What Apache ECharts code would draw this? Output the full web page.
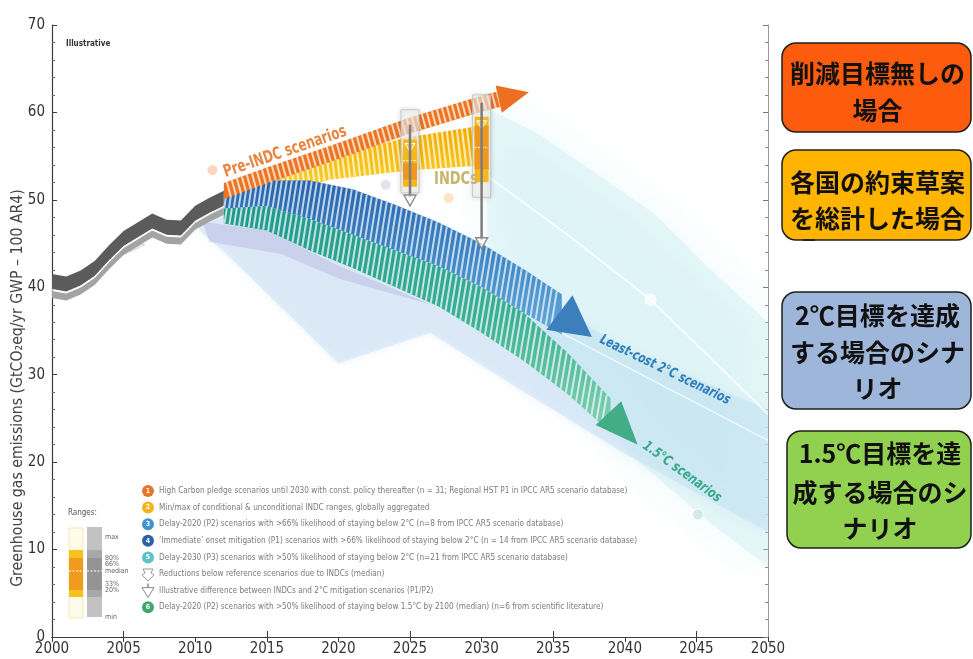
<!DOCTYPE html>
<html>
<head>
<meta charset="utf-8">
<script src="https://cdn.jsdelivr.net/npm/echarts@6/dist/echarts.min.js"></script>
<style>
html,body{margin:0;padding:0;background:#fff;}
#chart{width:973px;height:659px;}
</style>
</head>
<body>
<div id="chart"></div>
<script>
// ---------------- data (GtCO2e/yr) ----------------
const historyYears = [2000, 2001, 2002, 2003, 2004, 2005, 2006, 2007, 2008, 2009, 2010, 2011, 2012];
const historyValues = [39.7, 39.4, 40.1, 41.2, 43.0, 44.6, 45.6, 46.6, 45.9, 45.8, 47.5, 48.4, 49.2];

// pre-INDC (reference) pathway, centre line of the arrow
const preIndcYears = [2012, 2015, 2020, 2025, 2030, 2031.4];
const preIndcValues = [51.0, 52.8, 55.6, 58.5, 61.0, 61.6];
const preIndcTip = [2033.3, 62.3];

// aggregated INDC range
const indcBandYears = [2012, 2015, 2019.4, 2025, 2030.4];
const indcBandLow = [48.5, 50.2, 52.3, 53.4, 54.0];
const indcBandHigh = [50.6, 52.4, 55.0, 57.2, 58.6];

// least-cost 2°C pathways
const twoDegYears = [2012, 2015, 2018, 2021, 2024, 2027, 2030, 2033, 2035.6];
const twoDegHigh = [51.0, 52.2, 52.2, 51.2, 49.4, 47.4, 45.0, 42.0, 39.2];
const twoDegLow = [49.0, 49.3, 47.8, 46.0, 44.2, 42.4, 40.0, 37.0, 34.6];
const twoDegTip = [2037.7, 34.3];

// 1.5°C pathways
const oneFiveYears = [2012, 2015, 2018, 2021, 2024, 2027, 2030, 2033, 2036, 2039];
const oneFiveHigh = [49.0, 49.3, 47.8, 46.0, 44.2, 42.4, 40.0, 37.0, 32.5, 27.3];
const oneFiveLow = [47.3, 46.5, 44.2, 42.2, 40.0, 37.8, 34.8, 31.5, 27.8, 23.4];
const oneFiveTip = [2040.9, 22.0];

// scenario ranges (outline polygons: year, value)
const delay2020RangeYears = [2010.3, 2012, 2020, 2030, 2036, 2040, 2050, 2050, 2040, 2033, 2026.4, 2020.0, 2012.4, 2010.3];
const delay2020RangeValues = [47.0, 50.0, 49.0, 43.0, 37.0, 33.0, 26.0, 12.0, 21.0, 28.0, 34.8, 31.3, 43.5, 46.5];
const immediateRangeYears = [2010.5, 2015, 2020, 2026.5, 2020, 2016, 2011];
const immediateRangeValues = [47.5, 46.5, 42.5, 38.0, 41.0, 43.8, 45.2];
const delay2030RangeYears = [2030.4, 2034, 2038, 2042, 2046, 2050, 2050, 2046, 2041, 2036, 2033, 2030.4];
const delay2030RangeValues = [60.5, 57.5, 53.0, 48.5, 42.0, 36.0, 8.0, 13.0, 20.0, 29.0, 36.0, 45.0];

// median pathways inside the ranges
const delay2030MedianYears = [2030.6, 2036, 2041.8, 2050];
const delay2030MedianValues = [52.5, 46.0, 38.6, 25.5];
const delay2020MedianYears = [2033, 2040, 2050];
const delay2020MedianValues = [37.0, 31.0, 22.5];

// INDC box ranges in 2025 and 2030
const indcYears = [2025, 2030];
const indcMin = [50.8, 50.3];
const indcP20 = [51.5, 52.0];
const indcP33 = [52.3, 53.5];
const indcMedian = [54.5, 56.0];
const indcP66 = [54.2, 58.5];
const indcP80 = [56.9, 59.5];
const indcMax = [60.3, 62.0];

// gap arrows: from reference level down to 2°C level
const gapYears = [2025, 2030];
const gapFrom = [58.6, 61.1];
const gapTo = [49.3, 44.4];

// numbered scenario markers
const markerYears = [2011.2, 2023.3, 2027.7, 2041.8, 2045.1];
const markerValues = [53.4, 51.7, 50.2, 38.6, 14.0];

// axis
const xMin = 2000, xMax = 2050, xStep = 5;
const yMin = 0, yMax = 70, yStep = 10;
const bottomTickYears = [2005, 2015, 2025, 2035, 2045];

// legend texts
const legendTexts = [
  'High Carbon pledge scenarios until 2030 with const. policy thereafter (n = 31; Regional HST P1 in IPCC AR5 scenario database)',
  'Min/max of conditional & unconditional INDC ranges, globally aggregated',
  'Delay-2020 (P2) scenarios with >66% likelihood of staying below 2°C (n=8 from IPCC AR5 scenario database)',
  '\u2018Immediate\u2019 onset mitigation (P1) scenarios with >66% likelihood of staying below 2°C (n = 14 from IPCC AR5 scenario database)',
  'Delay-2030 (P3) scenarios with >50% likelihood of staying below 2°C (n=21 from IPCC AR5 scenario database)',
  'Reductions below reference scenarios due to INDCs (median)',
  'Illustrative difference between INDCs and 2°C mitigation scenarios (P1/P2)',
  'Delay-2020 (P2) scenarios with >50% likelihood of staying below 1.5°C by 2100 (median) (n=6 from scientific literature)'
];
const legendIcons = ['1', '2', '3', '4', '5', 'star', 'tri', '6'];
const rangeLabels = ['max', '80%', '66%', 'median', '33%', '20%', 'min'];

const boxTexts = [
  ['削減目標無しの', '場合'],
  ['各国の約束草案', 'を総計した場合'],
  ['2℃目標を達成', 'する場合のシナ', 'リオ'],
  ['1.5℃目標を達', '成する場合のシ', 'ナリオ']
];

// ---------------- styling helpers ----------------
const NARROW = '"Liberation Sans Narrow","DejaVu Sans Condensed","Open Sans",sans-serif';
const CJK = '"Noto Sans CJK JP","Noto Sans CJK SC",sans-serif';

function vGrad(stops) {
  return new echarts.graphic.LinearGradient(0, 0, 0, 1,
    stops.map((c, i) => ({ offset: i / (stops.length - 1), color: c })));
}

function coords(api, xs, ys) {
  return xs.map((x, i) => api.coord([x, ys[i]]));
}

// linear interpolation of y along a pixel polyline sorted by x
function interpY(pts, x) {
  if (x <= pts[0][0]) return pts[0][1];
  for (let i = 1; i < pts.length; i++) {
    if (x <= pts[i][0]) {
      const t = (x - pts[i - 1][0]) / (pts[i][0] - pts[i - 1][0]);
      return pts[i - 1][1] + t * (pts[i][1] - pts[i - 1][1]);
    }
  }
  return pts[pts.length - 1][1];
}

// light hatch gaps across a band (gives the striped look)
function hatchLines(top, bot, period, tilt, color, width) {
  const out = [];
  const x0 = top[0][0], x1 = top[top.length - 1][0];
  for (let x = x0 + period * 0.6; x < x1 - 1; x += period) {
    const yt = interpY(top, x);
    let xb = x + tilt * (interpY(bot, x) - yt);
    xb = Math.max(x0, Math.min(x1, xb));
    const yb = interpY(bot, xb);
    out.push({ type: 'line', shape: { x1: x, y1: yt, x2: xb, y2: yb },
      style: { stroke: color, lineWidth: width } });
  }
  return out;
}

// arrow head triangle at the end of a band, pointing to tip
function headPoints(top, bot, tip, scale) {
  const m = [(top[0] + bot[0]) / 2, (top[1] + bot[1]) / 2];
  let dx = tip[0] - m[0], dy = tip[1] - m[1];
  const L = Math.hypot(dx, dy); dx /= L; dy /= L;
  const hw = Math.abs(bot[1] - top[1]) / 2 * Math.abs(dx) * scale;
  const bx = m[0] - dx * 3, by = m[1] - dy * 3;
  return [[bx - dy * hw, by + dx * hw], [bx + dy * hw, by - dx * hw], tip];
}

function polygonSeries(xs, ys, style, z) {
  return {
    type: 'custom', z: z, silent: true, clip: true,
    data: xs.map((x, i) => [x, ys[i]]),
    renderItem(params, api) {
      if (params.dataIndex !== 0) return null;
      return { type: 'polygon', shape: { points: coords(api, xs, ys) }, style: style };
    }
  };
}

// band between low/high arrays, gradient + hatch, optional arrow head
function bandSeries(xs, lo, hi, under, hatch, tip, headColor, headScale, z) {
  return {
    type: 'custom', z: z, silent: true, clip: true,
    data: xs.map((x, i) => [x, lo[i], hi[i]]),
    renderItem(params, api) {
      if (params.dataIndex !== 0) return null;
      const top = coords(api, xs, hi);
      const bot = coords(api, xs, lo);
      const pts = top.concat(bot.slice().reverse());
      let children = [{ type: 'polygon', shape: { points: pts }, style: { fill: under } }];
      children = children.concat(hatchLines(top, bot, hatch.period, hatch.tilt, hatch.color, hatch.width));
      if (tip) {
        const n = xs.length - 1;
        children.push({ type: 'polygon',
          shape: { points: headPoints(top[n], bot[n], api.coord(tip), headScale) },
          style: { fill: headColor } });
      }
      return { type: 'group', children: children };
    }
  };
}

// arrow band of constant pixel thickness around a centre line
function centreArrowSeries(xs, ys, halfPx, under, hatch, tip, headColor, headScale, z) {
  return {
    type: 'custom', z: z, silent: true, clip: true,
    data: xs.map((x, i) => [x, ys[i]]),
    renderItem(params, api) {
      if (params.dataIndex !== 0) return null;
      const c = coords(api, xs, ys);
      const top = c.map(p => [p[0], p[1] - halfPx]);
      const bot = c.map(p => [p[0], p[1] + halfPx]);
      const pts = top.concat(bot.slice().reverse());
      const n = xs.length - 1;
      let children = [{ type: 'polygon', shape: { points: pts }, style: { fill: under } }];
      children = children.concat(hatchLines(top, bot, hatch.period, hatch.tilt, hatch.color, hatch.width));
      children.push({ type: 'polygon', shape: { points: headPoints(top[n], bot[n], api.coord(tip), headScale) },
        style: { fill: headColor } });
      return { type: 'group', children: children };
    }
  };
}

// ---------------- series ----------------
const series = [];

// scenario ranges
series.push(polygonSeries(delay2020RangeYears, delay2020RangeValues,
  { fill: 'rgba(206,225,244,0.58)', shadowBlur: 8, shadowColor: 'rgba(206,225,244,0.7)' }, 1));
series.push(polygonSeries(delay2030RangeYears, delay2030RangeValues,
  { fill: 'rgba(190,232,237,0.3)', shadowBlur: 40, shadowColor: 'rgba(190,232,237,0.9)' }, 2));
series.push(polygonSeries(immediateRangeYears, immediateRangeValues,
  { fill: 'rgba(190,194,228,0.6)' }, 3));

// median pathways (white lines)
series.push({
  type: 'line', z: 4, silent: true, symbol: 'none',
  data: delay2030MedianYears.map((x, i) => [x, delay2030MedianValues[i]]),
  lineStyle: { color: 'rgba(255,255,255,0.85)', width: 1.8 }
});
series.push({
  type: 'line', z: 4, silent: true, symbol: 'none',
  data: delay2020MedianYears.map((x, i) => [x, delay2020MedianValues[i]]),
  lineStyle: { color: 'rgba(255,255,255,0.7)', width: 1.4 }
});

// historical emissions band
series.push({
  type: 'custom', z: 6, silent: true,
  data: historyYears.map((x, i) => [x, historyValues[i]]),
  renderItem(params, api) {
    if (params.dataIndex !== 0) return null;
    const c = coords(api, historyYears, historyValues);
    const off = (d) => c.map(p => [p[0], p[1] + d]);
    const band = (a, b) => off(a).concat(off(b).reverse());
    return { type: 'group', children: [
      { type: 'polygon', shape: { points: band(-16, -1) }, style: { fill: '#5b5b5b' } },
      { type: 'polygon', shape: { points: band(1, 8) }, style: { fill: '#a3a3a3' } },
      { type: 'polyline', shape: { points: c },
        style: { stroke: '#ffffff', lineWidth: 1.3, lineDash: [1.5, 1.5], fill: null } }
    ] };
  }
});

// yellow INDC band
series.push(bandSeries(indcBandYears, indcBandLow, indcBandHigh,
  vGrad(['#f4a900', '#f7c51d', '#f9dc5e']),
  { period: 5, tilt: 0.12, color: 'rgba(255,250,228,0.8)', width: 2 },
  null, null, 0, 7));

// 2°C band
series.push(bandSeries(twoDegYears, twoDegLow, twoDegHigh,
  vGrad(['#2763ab', '#3f86c6', '#62aad9']),
  { period: 5, tilt: -0.15, color: 'rgba(232,242,251,0.78)', width: 2 },
  twoDegTip, '#3b7fbd', 1.35, 8));

// 1.5°C band
series.push(bandSeries(oneFiveYears, oneFiveLow, oneFiveHigh,
  vGrad(['#1f978f', '#3cb096', '#86d2b5']),
  { period: 5, tilt: -0.15, color: 'rgba(234,248,242,0.78)', width: 2 },
  oneFiveTip, '#41ae88', 1.5, 9));

// pre-INDC reference arrow
series.push(centreArrowSeries(preIndcYears, preIndcValues, 8,
  '#ec7424',
  { period: 5, tilt: 0.25, color: 'rgba(255,236,215,0.85)', width: 2 },
  preIndcTip, '#ec6f22', 1.8, 10));

// INDC boxes
series.push({
  type: 'custom', z: 11, silent: true,
  data: indcYears.map((y, i) => [y, indcMin[i], indcP20[i], indcP33[i], indcMedian[i], indcP66[i], indcP80[i], indcMax[i]]),
  renderItem(params, api) {
    const x = api.coord([api.value(0), 0])[0];
    const Y = (d) => api.coord([api.value(0), api.value(d)])[1];
    const yMinP = Y(1), y20 = Y(2), y33 = Y(3), yMed = Y(4), y66 = Y(5), y80 = Y(6), yMaxP = Y(7);
    return { type: 'group', children: [
      { type: 'rect', shape: { x: x - 9, y: yMaxP, width: 18, height: yMinP - yMaxP },
        style: { fill: 'rgba(255,255,255,0.6)', stroke: 'rgba(190,190,190,0.8)', lineWidth: 1,
                 shadowBlur: 5, shadowColor: 'rgba(0,0,0,0.25)' } },
      { type: 'rect', shape: { x: x - 7, y: y80, width: 14, height: y20 - y80 },
        style: { fill: '#f5b91c' } },
      { type: 'rect', shape: { x: x - 7, y: y66, width: 14, height: y33 - y66 },
        style: { fill: '#ee981e' } },
      { type: 'line', shape: { x1: x - 7, y1: yMed, x2: x + 7, y2: yMed },
        style: { stroke: '#fff', lineWidth: 1, lineDash: [2, 1.5] } },
      { type: 'polygon', shape: { points: [[x - 5, y80 + 4], [x + 5, y80 + 4], [x, y80 + 12]] },
        style: { fill: 'rgba(255,255,255,0.25)', stroke: '#fff', lineWidth: 1 } }
    ] };
  }
});

// gap arrows
series.push({
  type: 'custom', z: 12, silent: true,
  data: gapYears.map((y, i) => [y, gapFrom[i], gapTo[i]]),
  renderItem(params, api) {
    const a = api.coord([api.value(0), api.value(1)]);
    const b = api.coord([api.value(0), api.value(2)]);
    return { type: 'group', children: [
      { type: 'line', shape: { x1: a[0], y1: a[1], x2: b[0], y2: b[1] - 9 },
        style: { stroke: '#7d7d7d', lineWidth: 2.5 } },
      { type: 'polygon', shape: { points: [[b[0] - 6, b[1] - 11], [b[0] + 6, b[1] - 11], [b[0], b[1]]] },
        style: { fill: 'rgba(255,255,255,0.6)', stroke: '#8a8a8a', lineWidth: 1.4 } }
    ] };
  }
});

// numbered scenario markers
const markerColors = ['rgba(244,170,120,0.6)', 'rgba(200,205,225,0.7)', 'rgba(246,210,150,0.7)',
                      'rgba(255,255,255,0.9)', 'rgba(190,225,220,0.8)'];
series.push({
  type: 'scatter', z: 13, silent: true, symbol: 'circle', symbolSize: 11,
  data: markerYears.map((x, i) => [x, markerValues[i]]),
  itemStyle: {
    color: (p) => markerColors[p.dataIndex],
    borderColor: 'rgba(255,255,255,0.8)', borderWidth: 1.5
  }
});

// ---------------- graphic overlays ----------------
const graphics = [];

// y axis title
graphics.push({
  type: 'text', x: 18, y: 388, rotation: Math.PI / 2, silent: true, scaleX: 0.95,
  style: { text: 'Greenhouse gas emissions (GtCO\u2082eq/yr GWP \u2013 100 AR4)',
           fill: '#444', font: '16.5px ' + NARROW, align: 'center', verticalAlign: 'middle' }
});
graphics.push({
  type: 'text', x: 66, y: 44, silent: true,
  style: { text: 'Illustrative', fill: '#333', font: 'bold 8px ' + NARROW, align: 'left', verticalAlign: 'middle' }
});
graphics.push({
  type: 'text', x: 120, y: 255, rotation: 0.42, silent: true,
  style: { text: 'Historical emissions', fill: 'rgba(150,150,150,0.8)', font: '6px ' + NARROW,
           align: 'center', verticalAlign: 'middle' }
});

// pathway labels
graphics.push({
  type: 'text', x: 285, y: 152, rotation: 0.33, scaleX: 0.78, silent: true, z: 20,
  style: { text: 'Pre-INDC scenarios', fill: '#ea8540', font: 'bold 17px ' + NARROW,
           align: 'center', verticalAlign: 'middle' }
});
graphics.push({
  type: 'text', x: 456, y: 180, scaleX: 0.85, silent: true, z: 20,
  style: { text: 'INDCs', fill: '#c9b46c', font: 'bold 17px ' + NARROW, align: 'center', verticalAlign: 'middle' }
});
graphics.push({
  type: 'text', x: 665, y: 370, rotation: -0.45, scaleX: 0.82, silent: true, z: 20,
  style: { text: 'Least-cost 2°C scenarios', fill: '#2e7db9', font: 'italic bold 14px ' + NARROW,
           align: 'center', verticalAlign: 'middle' }
});
graphics.push({
  type: 'text', x: 682, y: 472, rotation: -0.63, scaleX: 0.85, silent: true, z: 20,
  style: { text: '1.5°C scenarios', fill: '#36a88a', font: 'italic bold 14px ' + NARROW,
           align: 'center', verticalAlign: 'middle' }
});

// legend rows
const iconColors = { '1': '#e8742c', '2': '#f4b41e', '3': '#3f93cf', '4': '#2c63a7', '5': '#5cc3c9', '6': '#3ea96f' };
const rowY0 = 491, rowStep = 16.6;
legendTexts.forEach((t, i) => {
  const y = rowY0 + i * rowStep;
  const ic = legendIcons[i];
  if (iconColors[ic]) {
    graphics.push({ type: 'circle', shape: { cx: 148, cy: y, r: 6 }, silent: true,
      style: { fill: iconColors[ic] } });
    graphics.push({ type: 'text', x: 148, y: y, silent: true,
      style: { text: ic, fill: '#fff', font: 'bold 7px ' + NARROW, align: 'center', verticalAlign: 'middle' } });
  } else if (ic === 'star') {
    graphics.push({ type: 'polygon', silent: true,
      shape: { points: [[143, y - 5], [153, y - 5], [151, y - 1], [154, y + 1], [148, y + 7], [142, y + 1], [145, y - 1]] },
      style: { fill: '#fff', stroke: '#999', lineWidth: 1 } });
  } else {
    graphics.push({ type: 'line', silent: true, shape: { x1: 148, y1: y - 7, x2: 148, y2: y - 3 },
      style: { stroke: '#888', lineWidth: 1.5 } });
    graphics.push({ type: 'polygon', silent: true,
      shape: { points: [[142, y - 3], [154, y - 3], [148, y + 7]] },
      style: { fill: '#fff', stroke: '#888', lineWidth: 1 } });
  }
  graphics.push({ type: 'text', x: 159, y: y, silent: true, scaleX: 0.95,
    style: { text: t, fill: '#7a7a7a', font: '8.6px ' + NARROW, align: 'left', verticalAlign: 'middle' } });
});

// ranges key
graphics.push({ type: 'text', x: 68, y: 513, silent: true,
  style: { text: 'Ranges:', fill: '#555', font: '8px ' + NARROW, align: 'left', verticalAlign: 'middle' } });
graphics.push({ type: 'rect', silent: true, shape: { x: 69, y: 528, width: 14, height: 90 },
  style: { fill: '#fffbea', stroke: '#f1e3a8', lineWidth: 0.8 } });
graphics.push({ type: 'rect', silent: true, shape: { x: 69, y: 550, width: 14, height: 47 },
  style: { fill: '#f6c11c' } });
graphics.push({ type: 'rect', silent: true, shape: { x: 69, y: 558, width: 14, height: 32 },
  style: { fill: '#f09b1c' } });
graphics.push({ type: 'line', silent: true, shape: { x1: 69, y1: 571, x2: 83, y2: 571 },
  style: { stroke: '#fff', lineWidth: 1, lineDash: [2, 1.5] } });
graphics.push({ type: 'rect', silent: true, shape: { x: 87, y: 527, width: 15, height: 90 },
  style: { fill: '#c2c2c2' } });
graphics.push({ type: 'rect', silent: true, shape: { x: 87, y: 550, width: 15, height: 47 },
  style: { fill: '#a8a8a8' } });
graphics.push({ type: 'rect', silent: true, shape: { x: 87, y: 558, width: 15, height: 32 },
  style: { fill: '#949494' } });
graphics.push({ type: 'line', silent: true, shape: { x1: 87, y1: 571, x2: 102, y2: 571 },
  style: { stroke: '#fff', lineWidth: 1, lineDash: [2, 1.5] } });
const rangeLabelY = [537, 558, 564, 571, 584, 590, 617];
rangeLabels.forEach((t, i) => {
  graphics.push({ type: 'text', x: 105, y: rangeLabelY[i], silent: true,
    style: { text: t, fill: '#666', font: '7px ' + NARROW, align: 'left', verticalAlign: 'middle' } });
});

// Japanese explanation boxes
const boxFrames = [
  { x: 782, y: 43, w: 189, h: 89, fill: '#fd5b0e' },
  { x: 782, y: 150, w: 189, h: 90, fill: '#ffb400' },
  { x: 782, y: 292, w: 189, h: 117, fill: '#9eb6da' },
  { x: 787, y: 431, w: 184, h: 117, fill: '#92d050' }
];
const boxLineY = [[73, 110], [182, 218], [315, 352, 388], [453, 492, 528]];
boxFrames.forEach((b, i) => {
  graphics.push({ type: 'rect', silent: true, shape: { x: b.x, y: b.y, width: b.w, height: b.h, r: 14 },
    style: { fill: b.fill, stroke: '#1e1e1e', lineWidth: 1.5 } });
  boxTexts[i].forEach((line, j) => {
    graphics.push({ type: 'text', x: b.x + b.w / 2 + 1, y: boxLineY[i][j], silent: true,
      style: { text: line, fill: '#111', font: 'bold 25px ' + CJK, align: 'center', verticalAlign: 'middle' } });
  });
});
graphics.push({ type: 'line', silent: true, shape: { x1: 803, y1: 240, x2: 815, y2: 240 },
  style: { stroke: '#222', lineWidth: 2 } });

// ---------------- chart ----------------
const axisColor = '#3c3c3c';
const option = {
  animation: false,
  backgroundColor: '#ffffff',
  grid: { left: 52, right: 205, top: 25, bottom: 22 },
  xAxis: [
    { type: 'value', min: xMin, max: xMax, interval: xStep, position: 'bottom',
      axisLine: { lineStyle: { color: axisColor, width: 1.2 } },
      axisTick: { show: true, inside: true, length: 6, customValues: bottomTickYears, lineStyle: { color: axisColor } },
      axisLabel: { color: '#333', fontSize: 15, fontFamily: NARROW, margin: 5, formatter: (v) => String(v) },
      splitLine: { show: false } },
    { type: 'value', min: xMin, max: xMax, interval: xStep, position: 'top',
      axisLine: { lineStyle: { color: axisColor, width: 1.2 } },
      axisTick: { show: true, inside: true, length: 5, lineStyle: { color: axisColor } },
      axisLabel: { show: false }, splitLine: { show: false } }
  ],
  yAxis: [
    { type: 'value', min: yMin, max: yMax, interval: yStep, position: 'left',
      axisLine: { show: true, lineStyle: { color: axisColor, width: 1.2 } },
      axisTick: { show: true, inside: true, length: 5, lineStyle: { color: axisColor } },
      minorTick: { show: true, splitNumber: 5, length: 3, lineStyle: { color: '#666' } },
      axisLabel: { color: '#333', fontSize: 15, fontFamily: NARROW, margin: 7 },
      splitLine: { show: false } },
    { type: 'value', min: yMin, max: yMax, interval: yStep, position: 'right',
      axisLine: { show: true, lineStyle: { color: '#999', width: 1 } },
      axisTick: { show: true, inside: true, length: 5, lineStyle: { color: '#777' } },
      minorTick: { show: true, splitNumber: 5, length: 3, lineStyle: { color: '#888' } },
      axisLabel: { show: false }, splitLine: { show: false } }
  ],
  series: series,
  graphic: { elements: graphics }
};

const chart = echarts.init(document.getElementById('chart'), null, { renderer: 'canvas' });
chart.setOption(option);
</script>
</body>
</html>
